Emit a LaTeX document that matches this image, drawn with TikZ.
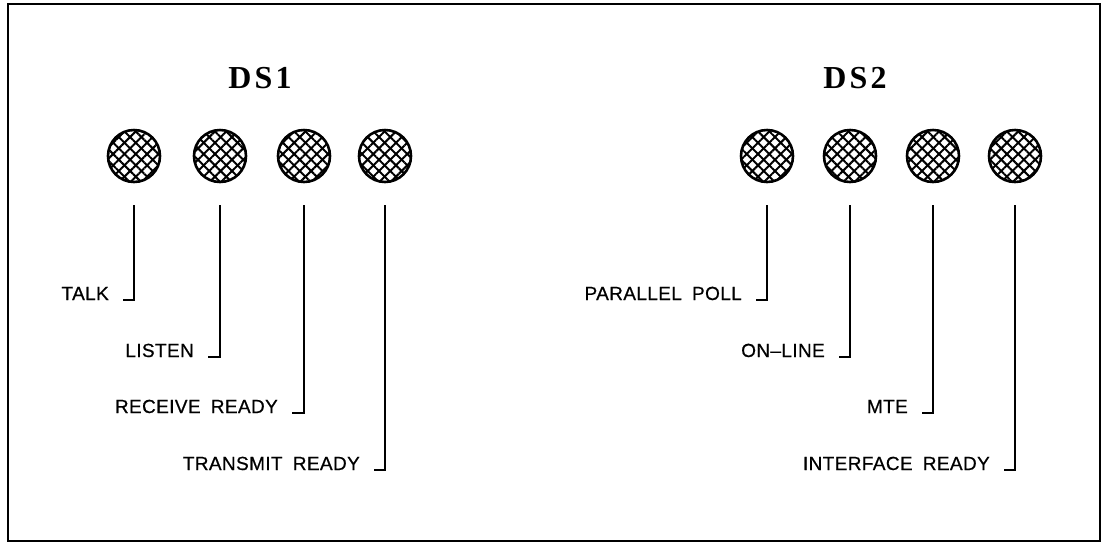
\documentclass[tikz,border=0pt]{standalone}
\usepackage{fontspec}
\setmainfont{Liberation Sans}
\newfontfamily\lblfont{Liberation Sans}[LetterSpace=2,WordSpace=1.8,FakeBold=0.6]
\newfontfamily\ttlfont{Liberation Serif}[LetterSpace=10]
\usetikzlibrary{patterns.meta,positioning}

\tikzset{
	lamp/.style={circle, minimum size=52pt, inner sep=0pt, line width=2.6pt, draw,
		pattern={Lines[angle=45,distance=8pt,line width=2pt]},
		postaction={pattern={Lines[angle=-45,distance=8pt,line width=2pt]}}},
	lbl/.style={font=\lblfont\fontsize{19}{21}\selectfont, inner sep=0pt, anchor=base east},
	ttl/.style={font=\ttlfont\bfseries\fontsize{32}{34}\selectfont, inner sep=0pt},
	lead/.style={line width=1.5pt},
}

\begin{document}
\begin{tikzpicture}[x=1pt,y=-1pt]
	\useasboundingbox (0,0) rectangle (1102,550);
	\draw [line width=1.8pt] (8,4) rectangle (1100,541);
	
	\node [ttl] (ds1) at (260,78) {DS1};
	\node [ttl] (ds2) at (855,78) {DS2};
	
	\foreach \n/\x in {a1/134,a2/220,a3/304,a4/385,b1/767,b2/850,b3/933,b4/1015}{% lamps
		\node [lamp] (\n) at (\x,156) {};
	}
	
	\foreach \n/\lx/\ly/\txt in 
	{a1/133/300/TALK, a2/218/357/LISTEN, a3/302/413/RECEIVE READY, a4/384/470/TRANSMIT READY,
	 b1/766/300/PARALLEL POLL, b2/849/357/ON\textendash LINE, b3/932/413/MTE, b4/1014/470/INTERFACE READY}{% labels
		\node [lbl] (\n-lbl) at (\lx-24,\ly) {\txt};
		\coordinate (\n-top) at ([yshift=-22pt]\n.south);
		\draw [lead] (\n-top) |- ([xshift=14pt]\n-lbl.base east);
	}
\end{tikzpicture}
\end{document}
